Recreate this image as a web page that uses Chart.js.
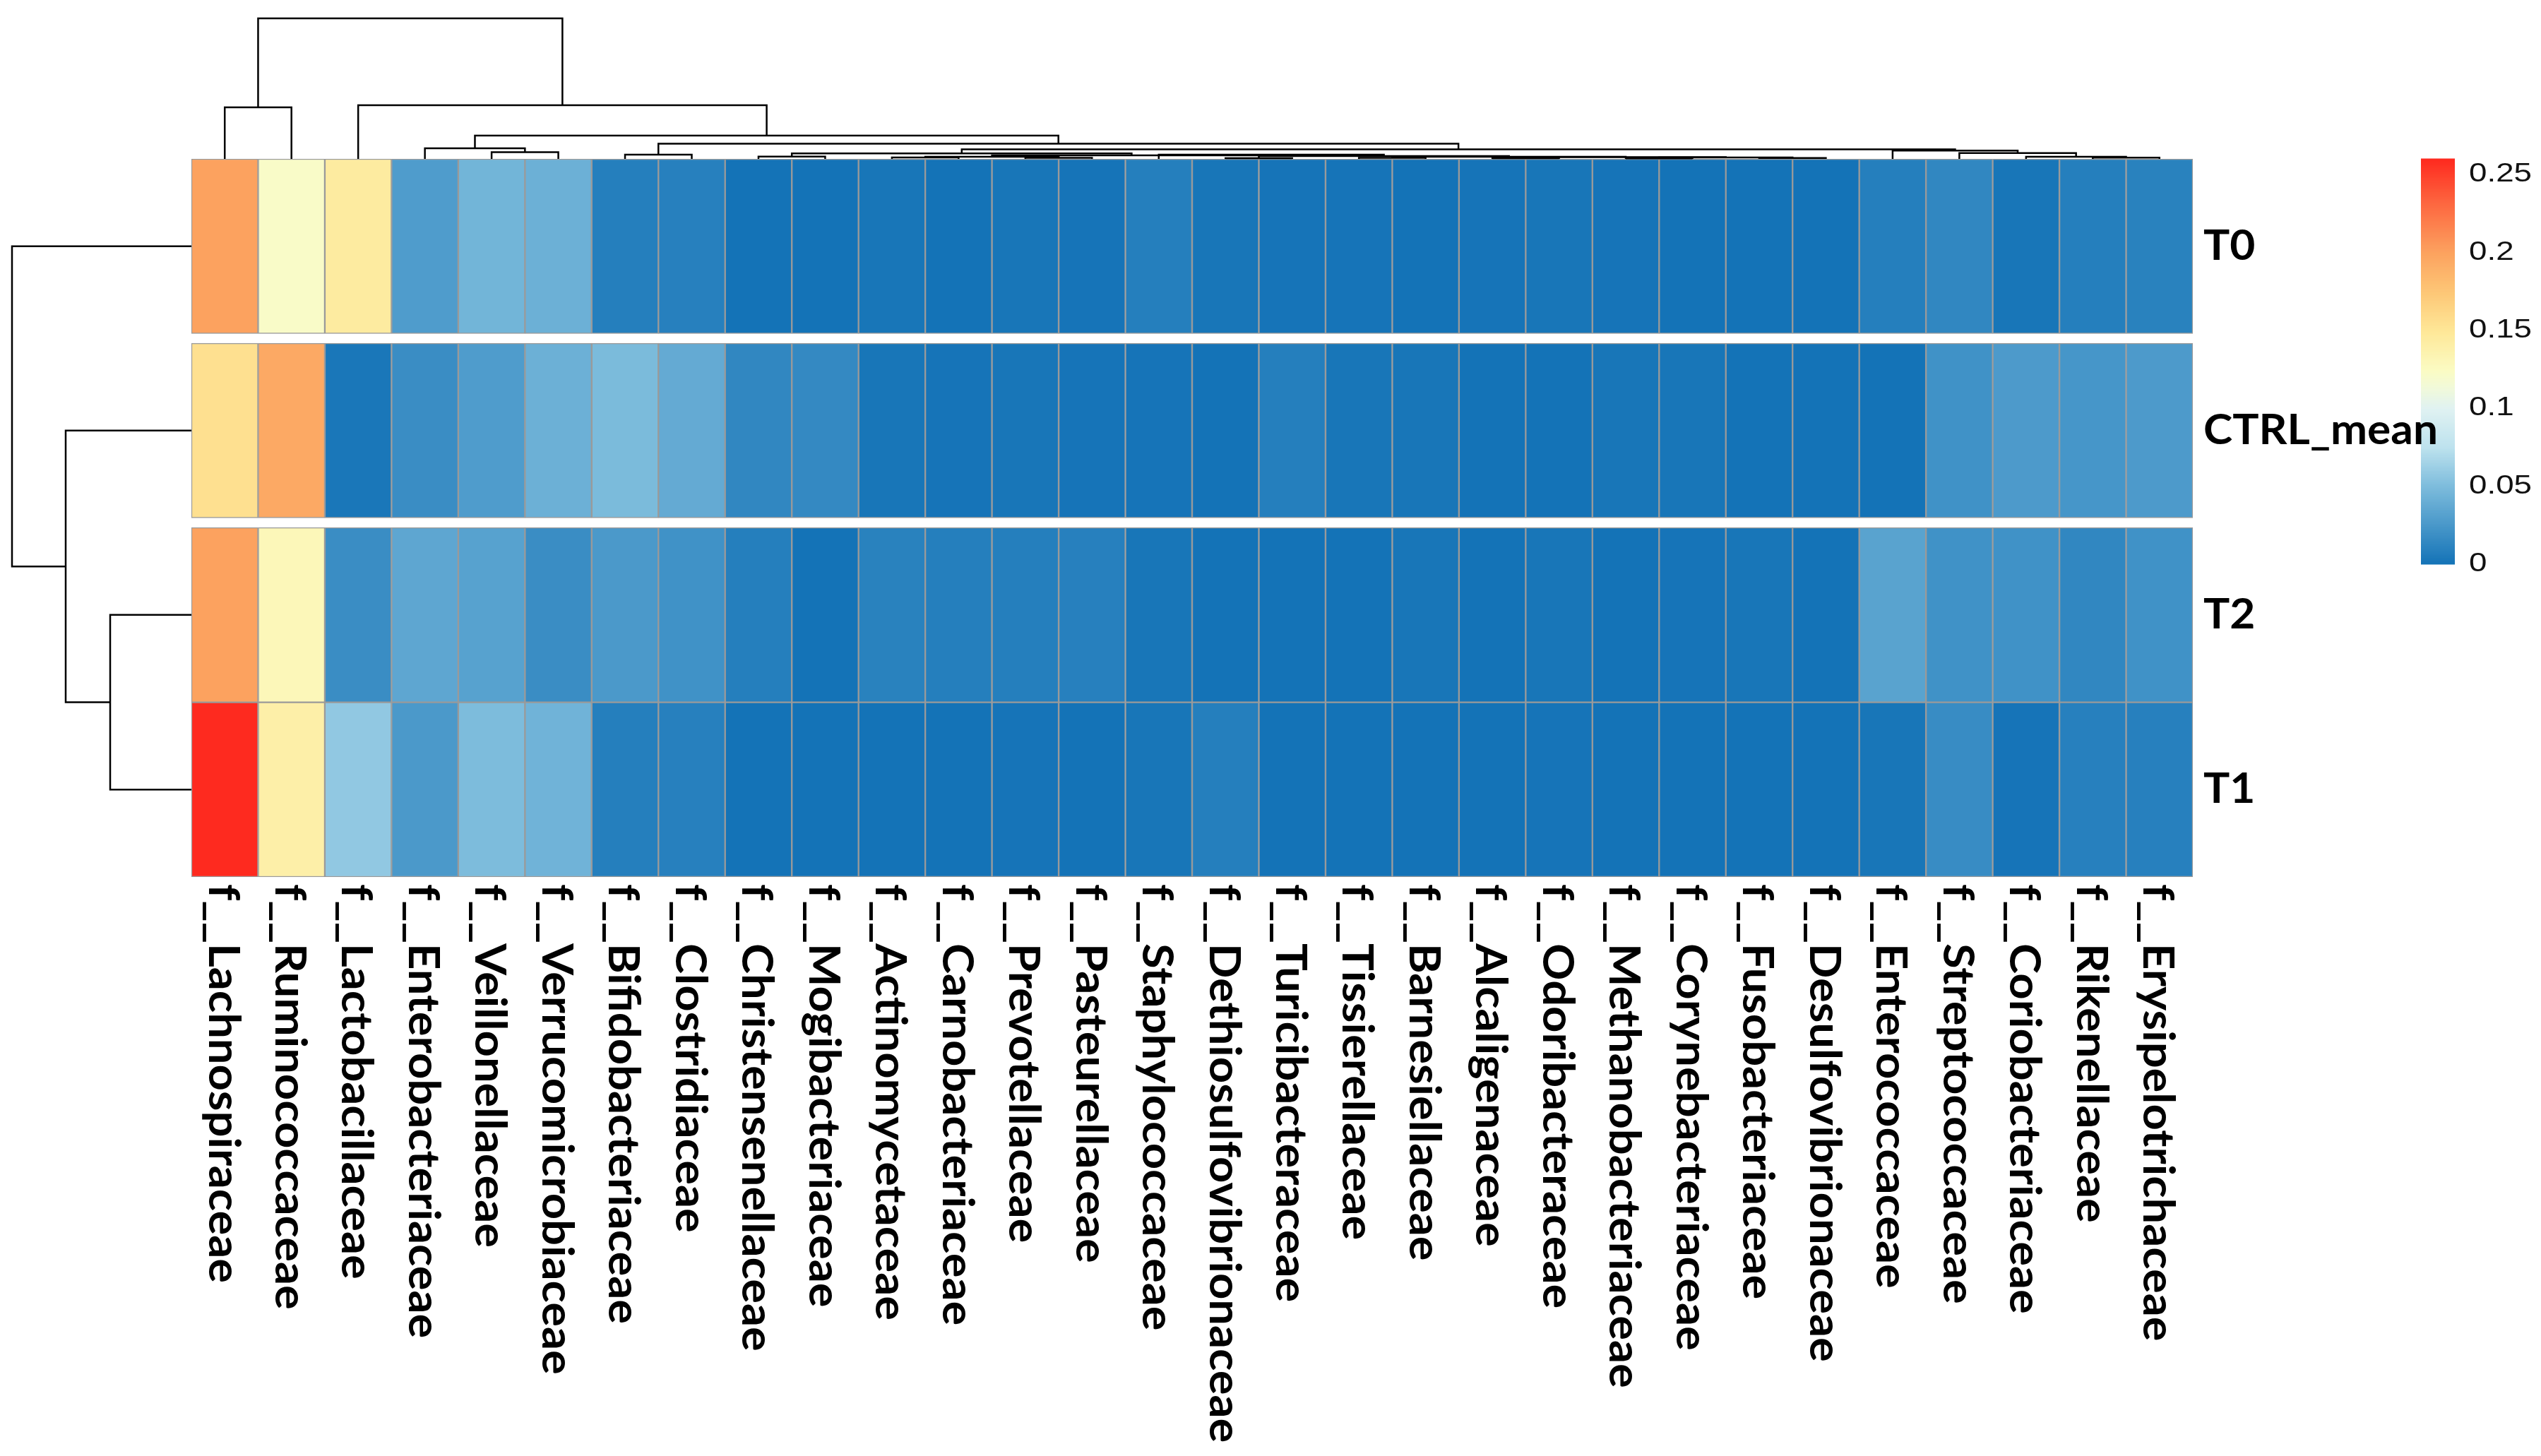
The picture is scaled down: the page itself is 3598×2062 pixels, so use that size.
<!DOCTYPE html>
<html>
<head>
<meta charset="utf-8">
<script src="https://cdn.jsdelivr.net/npm/chart.js@4.4.1/dist/chart.umd.min.js"></script>
<style>
  html, body { margin: 0; padding: 0; background: #fff; }
  #wrap { width: 3598px; height: 2062px; }
</style>
</head>
<body>
<div id="wrap"><canvas id="heat" width="3598" height="2062"></canvas></div>
<script>
const families = [
  'f__Lachnospiraceae', 'f__Ruminococcaceae', 'f__Lactobacillaceae', 'f__Enterobacteriaceae',
  'f__Veillonellaceae', 'f__Verrucomicrobiaceae', 'f__Bifidobacteriaceae', 'f__Clostridiaceae',
  'f__Christensenellaceae', 'f__Mogibacteriaceae', 'f__Actinomycetaceae', 'f__Carnobacteriaceae',
  'f__Prevotellaceae', 'f__Pasteurellaceae', 'f__Staphylococcaceae', 'f__Dethiosulfovibrionaceae',
  'f__Turicibacteraceae', 'f__Tissierellaceae', 'f__Barnesiellaceae', 'f__Alcaligenaceae',
  'f__Odoribacteraceae', 'f__Methanobacteriaceae', 'f__Corynebacteriaceae', 'f__Fusobacteriaceae',
  'f__Desulfovibrionaceae', 'f__Enterococcaceae', 'f__Streptococcaceae', 'f__Coriobacteriaceae',
  'f__Rikenellaceae', 'f__Erysipelotrichaceae'
];
const rowNames = ['T0', 'CTRL_mean', 'T2', 'T1'];

const t0 = [0.200, 0.122, 0.145, 0.028, 0.045, 0.042, 0.008, 0.009, 0.000, 0.000,
            0.002, 0.000, 0.002, 0.001, 0.008, 0.002, 0.001, 0.001, 0.000, 0.001,
            0.002, 0.001, 0.000, 0.000, 0.000, 0.008, 0.014, 0.002, 0.008, 0.010];
const ctrlMean = [0.155, 0.195, 0.003, 0.018, 0.028, 0.042, 0.049, 0.038, 0.014, 0.015,
            0.002, 0.001, 0.002, 0.001, 0.001, 0.000, 0.008, 0.002, 0.002, 0.000,
            0.000, 0.002, 0.002, 0.000, 0.000, 0.000, 0.021, 0.027, 0.024, 0.027];
const t2 = [0.200, 0.130, 0.018, 0.035, 0.032, 0.018, 0.026, 0.021, 0.008, 0.000,
            0.010, 0.008, 0.008, 0.009, 0.002, 0.000, 0.000, 0.000, 0.002, 0.000,
            0.002, 0.000, 0.001, 0.002, 0.000, 0.033, 0.021, 0.021, 0.014, 0.021];
const t1 = [0.260, 0.140, 0.058, 0.026, 0.050, 0.044, 0.008, 0.009, 0.000, 0.000,
            0.000, 0.000, 0.001, 0.000, 0.002, 0.008, 0.000, 0.000, 0.000, 0.000,
            0.001, 0.000, 0.000, 0.000, 0.000, 0.002, 0.017, 0.001, 0.009, 0.009];

const legendTicks = [0, 0.05, 0.1, 0.15, 0.2, 0.25];
const colorMax = 0.26;

// hclust-like merges: [left, right, height], leaves are column / row indices
const colTree = [[0, 1, 73],
  [2, [[3, [4, 5, 9.5], 15],
       [[6, 7, 6],
        [[[8, 9, 3.3],
          [[[10, 11, 2], [12, 13, 1.5], 3],
           [14, [[15, 16, 1], [[17, 18, 1.5], [[19, 20, 1], [[21, 22, 0.8], [23, 24, 1.2], 2], 2.5], 3], 4], 6], 5], 7.7],
         [25, [26, [27, [28, 29, 1.7], 3], 8.3], 11.7], 13.5], 21.5], 33], 76], 199];
const rowTree = [0, [1, [2, 3, 115], 178], 254];

// colour ramp
const rampStops = [
  [0, '#1473b7'], [0.05, '#7dbcdc'], [0.075, '#bde2ee'], [0.1, '#e0f2f2'],
  [0.115, '#f3fad6'], [0.125, '#fbfbc2'], [0.15, '#fee797'], [0.175, '#fdc676'],
  [0.2, '#fca25f'], [0.23, '#fd6a42'], [0.26, '#fe2a1f']
];
function hex2rgb(h) { return [1, 3, 5].map(i => parseInt(h.substr(i, 2), 16)); }
function colorFor(v) {
  for (let i = 1; i < rampStops.length; i++) {
    if (v <= rampStops[i][0] || i === rampStops.length - 1) {
      const [v0, c0] = rampStops[i - 1], [v1, c1] = rampStops[i];
      const t = Math.max(0, Math.min(1, (v - v0) / (v1 - v0)));
      const a = hex2rgb(c0), b = hex2rgb(c1);
      return 'rgb(' + a.map((x, k) => Math.round(x + (b[k] - x) * t)).join(',') + ')';
    }
  }
}

// row blocks: gaps after T0 and CTRL_mean
const rowGap = 0.055;
const gapAfter = [true, true, false, false];
const rowBounds = [];
let yCursor = 4 + rowGap * 2;
rowNames.forEach((r, i) => {
  rowBounds.push([yCursor - 1, yCursor]);
  yCursor -= 1 + (gapAfter[i] ? rowGap : 0);
});

const rowValues = [t0, ctrlMean, t2, t1];
const datasets = rowValues.map((vals, r) => ({
  label: rowNames[r],
  data: vals.map((v, i) => ({ x: families[i], y: rowBounds[r], v: v })),
  backgroundColor: vals.map(colorFor),
  borderColor: '#9a9a9a',
  borderWidth: 1.5,
  borderSkipped: false,
  grouped: false,
  categoryPercentage: 1,
  barPercentage: 1
}));

function drawTree(ctx, node, leafPos, toXY, scale) {
  if (typeof node === 'number') return { p: leafPos(node), h: 0 };
  const a = drawTree(ctx, node[0], leafPos, toXY, scale);
  const b = drawTree(ctx, node[1], leafPos, toXY, scale);
  const h = node[2] * scale;
  ctx.beginPath();
  let q = toXY(a.p, a.h); ctx.moveTo(q[0], q[1]);
  q = toXY(a.p, h); ctx.lineTo(q[0], q[1]);
  q = toXY(b.p, h); ctx.lineTo(q[0], q[1]);
  q = toXY(b.p, b.h); ctx.lineTo(q[0], q[1]);
  ctx.stroke();
  return { p: (a.p + b.p) / 2, h: h };
}

function stretch(ctx, font, text, target) {
  ctx.font = font;
  return target / ctx.measureText(text).width;
}

const decorations = {
  id: 'decorations',
  afterDraw(chart) {
    const ctx = chart.ctx, area = chart.chartArea;
    const xs = chart.scales.x, ys = chart.scales.y;
    ctx.save();

    // dendrograms
    ctx.strokeStyle = '#000';
    ctx.lineWidth = 2.5;
    ctx.lineJoin = 'miter';
    drawTree(ctx, colTree, i => xs.getPixelForValue(i),
      (p, h) => [p, area.top - h], 199 / colTree[2]);
    drawTree(ctx, rowTree, r => ys.getPixelForValue((rowBounds[r][0] + rowBounds[r][1]) / 2),
      (p, h) => [area.left - h, p], 254 / rowTree[2]);

    // colour legend
    const lg = { x: 3428, w: 48, top: area.top, bottom: 799 };
    const steps = 260;
    for (let k = 0; k < steps; k++) {
      const v = (k + 0.5) / steps * colorMax;
      const y0 = lg.bottom - (k / steps) * (lg.bottom - lg.top);
      const y1 = lg.bottom - ((k + 1) / steps) * (lg.bottom - lg.top);
      ctx.fillStyle = colorFor(v);
      ctx.fillRect(lg.x, y1 - 0.5, lg.w, y0 - y1 + 1);
    }
    ctx.textAlign = 'left';
    ctx.textBaseline = 'middle';
    const tickFont = '37px "Liberation Sans", Arial, sans-serif';
    const kTick = stretch(ctx, tickFont, '0.25', 89);
    ctx.fillStyle = '#111';
    legendTicks.forEach(t => {
      const y = lg.bottom - t / colorMax * (lg.bottom - lg.top);
      ctx.save();
      ctx.translate(lg.x + lg.w + 20, y);
      ctx.scale(kTick, 1);
      ctx.fillText(String(t), 0, 0);
      ctx.restore();
    });

    // column labels
    const colFont = 'bold 61px Lato, "Open Sans", sans-serif';
    const kCol = stretch(ctx, colFont, families[0], 565);
    ctx.fillStyle = '#000';
    families.forEach((name, i) => {
      ctx.save();
      ctx.translate(xs.getPixelForValue(i) - 3, area.bottom + 10);
      ctx.rotate(Math.PI / 2);
      ctx.scale(kCol, 1);
      ctx.fillText(name, 0, 0);
      ctx.restore();
    });

    // row labels (drawn over the legend, as in the original)
    const rowFont = 'bold 59px Lato, "Open Sans", sans-serif';
    const kRow = stretch(ctx, rowFont, 'CTRL_mean', 332);
    rowNames.forEach((name, r) => {
      ctx.save();
      ctx.translate(area.right + 15, ys.getPixelForValue((rowBounds[r][0] + rowBounds[r][1]) / 2));
      ctx.scale(kRow, 1);
      ctx.fillText(name, 0, 0);
      ctx.restore();
    });

    ctx.restore();
  }
};

new Chart(document.getElementById('heat'), {
  type: 'bar',
  data: { labels: families, datasets: datasets },
  options: {
    responsive: false,
    devicePixelRatio: 1,
    animation: false,
    layout: { padding: { left: 271, right: 493, top: 225, bottom: 820 } },
    plugins: { legend: { display: false }, tooltip: { enabled: false } },
    scales: {
      x: { display: false },
      y: { display: false, min: 0, max: 4 + rowGap * 2 }
    }
  },
  plugins: [decorations]
});
</script>
</body>
</html>
